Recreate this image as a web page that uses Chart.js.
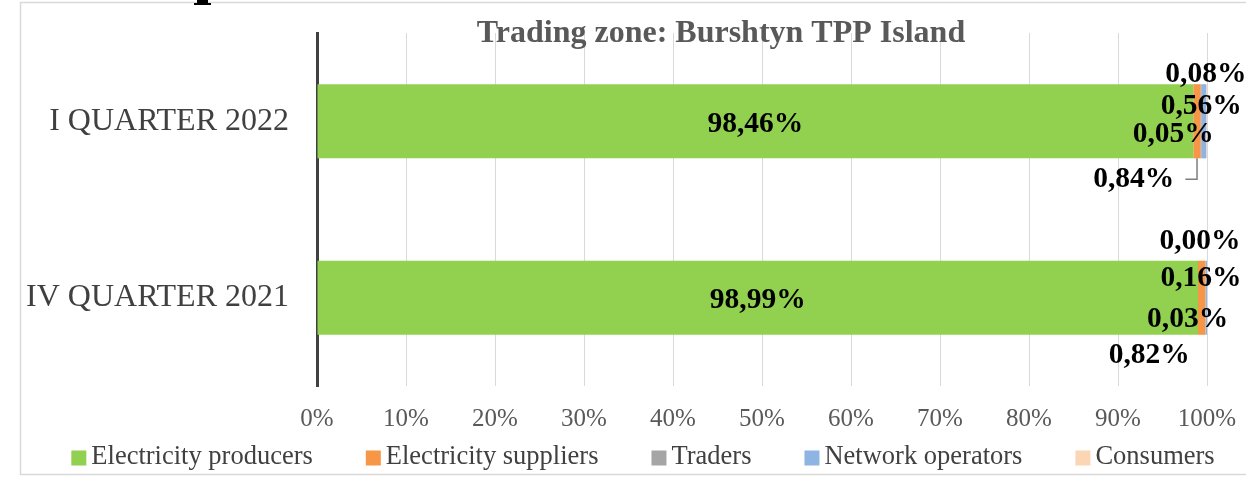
<!DOCTYPE html>
<html><head><meta charset="utf-8">
<script src="https://cdn.jsdelivr.net/npm/chart.js@4.4.0/dist/chart.umd.min.js"></script>
<style>html,body{margin:0;padding:0;background:#fff;overflow:hidden}#wrap{width:1246px;height:478px;position:relative}</style>
</head><body><div id="wrap"><canvas id="c" width="1246" height="478"></canvas></div>
<script>
// ---- data ----
const categories = ['I QUARTER 2022', 'IV QUARTER 2021'];
const seriesNames = ['Electricity producers', 'Electricity suppliers', 'Traders', 'Network operators', 'Consumers'];
const producers = [98.46, 98.99];
const suppliers = [0.84, 0.82];
const traders = [0.05, 0.03];
const networkOps = [0.56, 0.16];
const consumers = [0.08, 0.00];
const xTickStep = 10;
const titleText = 'Trading zone: Burshtyn TPP Island';

// ---- styles ----
const colors = ['#92D050', '#F79646', '#A5A5A5', '#8DB4E2', '#FCD5B5'];
const FONT = "'Liberation Serif', 'Times New Roman', serif";
// manual label offsets (px) from each segment's right end / bar centre
const labelOffsets = [
  null,
  [[-67, 58], [-56, 58]],
  [[-28, 13], [-18, 22]],
  [[-5, -15], [-6, -19]],
  [[-1, -47], [-7, -56]]
];

const seriesValues = [producers, suppliers, traders, networkOps, consumers];
const fmt = v => v.toFixed(2).replace('.', ',') + '%';

const framePlugin = {
  id: 'frame',
  beforeDraw(chart) {
    const ctx = chart.ctx;
    ctx.save();
    ctx.fillStyle = '#fff';
    ctx.fillRect(0, 0, chart.width, chart.height);
    ctx.strokeStyle = '#D9D9D9';
    ctx.lineWidth = 1.5;
    ctx.strokeRect(20.5, 2.5, 1400, 472);
    ctx.fillStyle = '#000';
    ctx.fillRect(197, 0, 11, 3);
    ctx.fillRect(194, 3, 17, 2);
    ctx.restore();
  }
};

const labelPlugin = {
  id: 'labels',
  afterDatasetsDraw(chart) {
    const ctx = chart.ctx;
    ctx.save();
    ctx.font = 'bold 29.5px ' + FONT;
    ctx.fillStyle = '#000';
    ctx.textAlign = 'center';
    ctx.textBaseline = 'middle';
    chart.data.datasets.forEach((ds, di) => {
      const meta = chart.getDatasetMeta(di);
      meta.data.forEach((el, i) => {
        const p = el.getProps(['x', 'y', 'base', 'height'], true);
        const txt = fmt(ds.data[i]);
        if (di === 0) {
          ctx.fillText(txt, (p.x + p.base) / 2, p.y + 3);
          return;
        }
        const off = labelOffsets[di][i];
        const lx = p.x + off[0], ly = p.y + off[1];
        ctx.fillText(txt, lx, ly);
        if (di === 1 && i === 0) {
          const w = ctx.measureText(txt).width;
          const cx = (p.x + p.base) / 2;
          ctx.save();
          ctx.strokeStyle = '#7F7F7F';
          ctx.lineWidth = 1.5;
          ctx.beginPath();
          ctx.moveTo(lx + w / 2 + 11, ly);
          ctx.lineTo(cx, ly);
          ctx.lineTo(cx, p.y + p.height / 2);
          ctx.stroke();
          ctx.restore();
        }
      });
    });
    ctx.restore();
  }
};

const titleLegendPlugin = {
  id: 'titleLegend',
  afterDraw(chart) {
    const ctx = chart.ctx;
    ctx.save();
    // title
    ctx.font = 'bold 32px ' + FONT;
    ctx.fillStyle = '#595959';
    ctx.textAlign = 'center';
    ctx.textBaseline = 'middle';
    ctx.fillText(titleText, 721, 34);
    // legend
    ctx.font = '26.5px ' + FONT;
    ctx.textAlign = 'left';
    const box = 15, gapBT = 5, gapItems = 53;
    const widths = chart.data.datasets.map(d => box + gapBT + ctx.measureText(d.label).width);
    const total = widths.reduce((a, b) => a + b, 0) + gapItems * (widths.length - 1);
    let x = 643 - total / 2;
    const cy = 457;
    chart.data.datasets.forEach((d, i) => {
      ctx.fillStyle = d.backgroundColor;
      ctx.fillRect(x, cy - box / 2 + 1, box, box);
      ctx.fillStyle = '#404040';
      ctx.fillText(d.label, x + box + gapBT, cy);
      x += widths[i] + gapItems;
    });
    ctx.restore();
  }
};

new Chart(document.getElementById('c'), {
  type: 'bar',
  data: {
    labels: categories,
    datasets: seriesNames.map((name, i) => ({
      label: name,
      data: seriesValues[i],
      backgroundColor: colors[i],
      borderWidth: 0,
      barPercentage: 0.42,
      categoryPercentage: 1.0
    }))
  },
  options: {
    indexAxis: 'y',
    responsive: false,
    devicePixelRatio: 1,
    animation: false,
    layout: { padding: { left: 0, right: 39, top: 33, bottom: 0 } },
    plugins: { legend: { display: false }, title: { display: false }, tooltip: { enabled: false } },
    scales: {
      x: {
        stacked: true, min: 0, max: 100,
        ticks: { stepSize: xTickStep, callback: v => v + '%', font: { family: FONT, size: 25 }, color: '#595959', padding: 18, maxRotation: 0, autoSkip: false },
        grid: { color: '#D9D9D9', lineWidth: 1, drawTicks: false },
        border: { display: false },
        afterFit: s => { s.height = 92; s.paddingLeft = 0; s.paddingRight = 0; s.paddingTop = 0; s.paddingBottom = 0; }
      },
      y: {
        stacked: true,
        ticks: { font: { family: FONT, size: 32 }, color: '#404040', padding: 28 },
        grid: { display: false, drawTicks: false },
        border: { display: true, color: '#404040', width: 3 },
        afterFit: s => { s.width = 317; s.paddingLeft = 0; s.paddingRight = 0; s.paddingTop = 0; s.paddingBottom = 0; }
      }
    }
  },
  plugins: [framePlugin, labelPlugin, titleLegendPlugin]
});
</script>
</body></html>
